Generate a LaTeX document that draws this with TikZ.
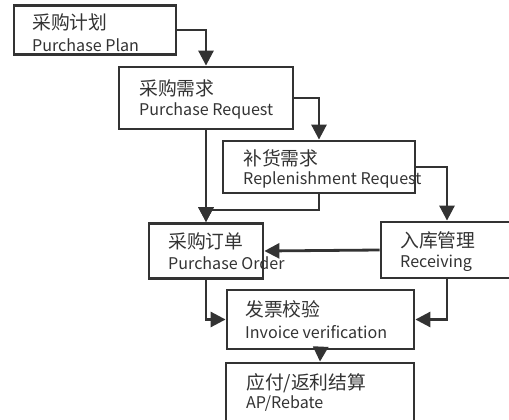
\documentclass[tikz,border=0pt]{standalone}
\usepackage{fontspec}
\setmainfont{Noto Sans CJK SC}
\newfontfamily\cjk{Noto Sans CJK SC}
\usetikzlibrary{arrows.meta}
\definecolor{ink}{HTML}{333333}
\tikzset{
  box/.style={draw=ink, line width=2.8pt, fill=white, rectangle, inner sep=0pt},
  zh/.style={anchor=west, inner sep=0pt, text=ink, font=\cjk\fontsize{18.8}{18.8}\selectfont},
  en/.style={anchor=west, inner sep=0pt, text=ink, font=\fontsize{16.1}{16.1}\selectfont},
  conn/.style={draw=ink, line width=2.8pt, -{Triangle[width=15pt,length=15pt]}},
}
\begin{document}
\begin{tikzpicture}[x=1pt,y=-1pt]
\useasboundingbox (0,0) rectangle (509,420);
\clip (0,0) rectangle (509,420);
% boxes
\node[box, minimum width=162pt, minimum height=49pt] (b1) at (95,30) {};
\node[box, minimum width=174pt, minimum height=62pt] (b2) at (206,98) {};
\node[box, minimum width=192pt, minimum height=52pt] (rep) at (319,167) {};
\node[box, minimum width=114pt, minimum height=55pt] (po) at (206,251) {};
\node[box, minimum width=132pt, minimum height=56pt] (rec) at (447,250) {};
\node[box, minimum width=187pt, minimum height=59pt] (inv) at (320.5,319.5) {};
\node[box, minimum width=188pt, minimum height=64pt] (ap) at (320,395) {};
% texts
\node[zh] (b1z) at (32,22) {采购计划};
\node[en] (b1e) at (32,45) {Purchase Plan};
\node[zh] (b2z) at (139,88) {采购需求};
\node[en] (b2e) at (139,111) {Purchase Request};
\node[zh] (repz) at (243,158) {补货需求};
\node[en] (repe) at (243,180) {Replenishment Request};
\node[zh] (poz) at (168,241) {采购订单};
\node[en] (poe) at (168,263) {Purchase Order};
\node[zh] (recz) at (400,240) {入库管理};
\node[en] (rece) at (400,263) {Receiving};
\node[zh] (invz) at (245,309) {发票校验};
\node[en] (inve) at (245,332) {Invoice verification};
\node[zh] (apz) at (246,383) {应付/返利结算};
\node[en] (ape) at (246,404) {AP/Rebate};
% connectors
\coordinate (j) at (319,210);
\draw[conn] (b1.east) -| (b2.north);
\draw[conn] (b2.south) -- (po.north);
\draw[conn] (b2.east) -| (rep.north);
\draw[conn] (rep.south) -- (j) -| (po.north);
\draw[conn] (rep.east) -| (rec.north);
\draw[conn] (rec.west) -- (po.east);
\draw[conn] (po.south) |- (inv.west);
\draw[conn] (rec.south) |- (inv.east);
\draw[conn] (inv.south) -- (ap.north);
\end{tikzpicture}
\end{document}
